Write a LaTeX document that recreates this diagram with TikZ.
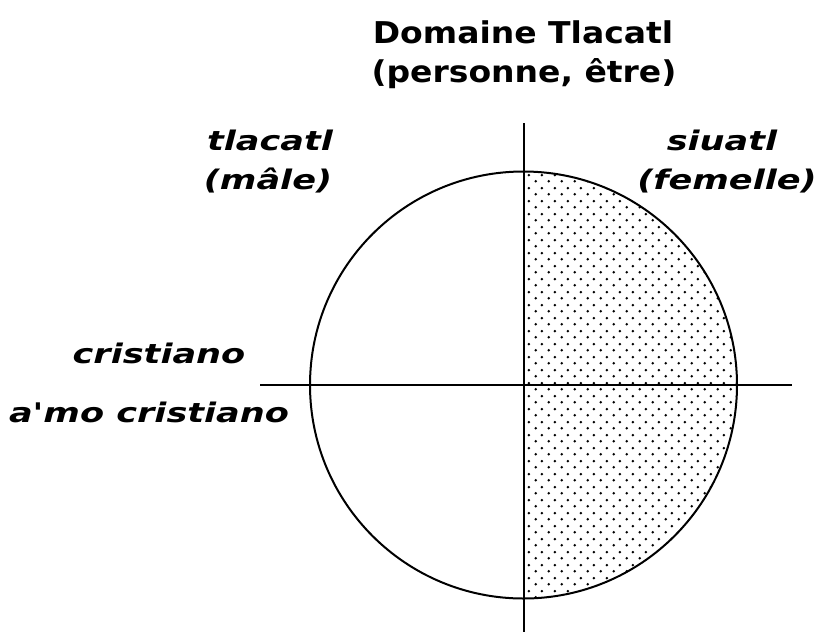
\documentclass[tikz,border=0pt]{standalone}
\usepackage{fontspec}
\newfontfamily\titlefont[FakeStretch=1.1]{DejaVu Sans}
\newfontfamily\labelfont[FakeStretch=1.3]{DejaVu Sans}
\usetikzlibrary{patterns}
\pgfdeclarepatternformonly{macdots}{\pgfpointorigin}{\pgfqpoint{13pt}{13pt}}{\pgfqpoint{13pt}{13pt}}{%
  \pgfpathcircle{\pgfqpoint{3pt}{3pt}}{1.5pt}%
  \pgfpathcircle{\pgfqpoint{9.5pt}{9.5pt}}{1.5pt}%
  \pgfusepath{fill}}
\tikzset{
  ttl/.style={font=\titlefont\bfseries\fontsize{30}{39}\selectfont, align=center, inner sep=0pt},
  lbl/.style={font=\labelfont\bfseries\itshape\fontsize{27}{39}\selectfont, inner sep=0pt, anchor=base},
  axis/.style={line width=2pt},
  ring/.style={line width=2pt}
}
\begin{document}
\begin{tikzpicture}[x=1pt,y=-1pt]
\useasboundingbox[fill=white] (0,0) rectangle (818,638);
\coordinate (c) at (523.5,385);
\coordinate (vt) at (523.5,123);
\coordinate (vb) at (523.5,632);
\coordinate (hl) at (260,385);
\coordinate (hr) at (792,385);
\begin{scope}
  \clip (523.5,0) rectangle (818,638);
  \fill[pattern=macdots] (c) circle[radius=213.5pt];
\end{scope}
\draw[ring] (c) circle[radius=213.5pt];
\draw[axis] (vt) -- (vb);
\draw[axis] (hl) -- (hr);
\node[ttl, anchor=base] (t1) at (523,43) {Domaine Tlacatl};
\node[ttl, anchor=base] (t2) at (524,82) {(personne, être)};
\node[lbl] (tl) at (270,150) {tlacatl};
\node[lbl] (ml) at (268,189) {(mâle)};
\node[lbl] (si) at (722,150) {siuatl};
\node[lbl] (fe) at (727,189) {(femelle)};
\node[lbl] (cr) at (159,363) {cristiano};
\node[lbl] (am) at (149,422) {a'mo cristiano};
\end{tikzpicture}
\end{document}
